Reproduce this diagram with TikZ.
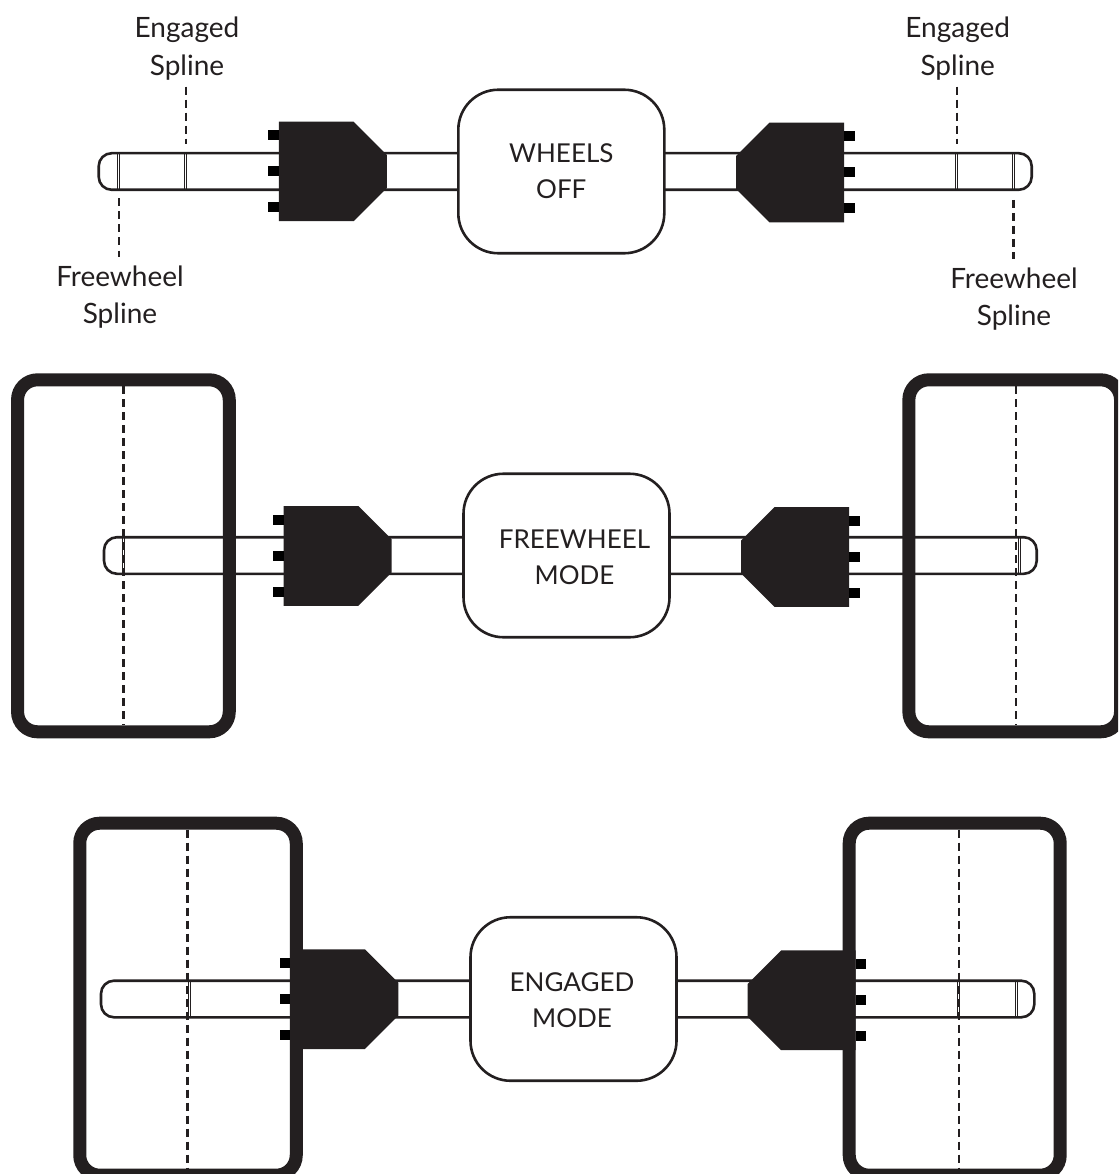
\documentclass[tikz,border=0pt]{standalone}
\usepackage{fontspec}
\setmainfont{Lato}
\usepackage{tikz}
\usetikzlibrary{positioning}
\definecolor{ink}{HTML}{231F20}
\tikzstyle{shaft} = [draw=ink, line width=2.6pt, rounded corners=13pt]
\tikzstyle{spline} = [draw=ink, line width=.7pt, double=white, double distance=1.4pt]
\tikzstyle{leader} = [draw=ink, line width=2.4pt, dash pattern=on 8pt off 5pt]
\tikzstyle{hubblock} = [rectangle, inner sep=0pt, outer sep=0pt, minimum width=108pt, minimum height=99.7pt]
\tikzstyle{tooth} = [rectangle, fill=black, inner sep=0pt, outer sep=0pt, minimum width=10.6pt, minimum height=10pt]
\tikzstyle{wheel} = [rectangle, draw=ink, line width=13pt, rounded corners=20pt, outer sep=0pt, minimum height=352pt]
\tikzstyle{gearbox} = [rectangle, draw=ink, line width=2.6pt, fill=white, rounded corners=40pt, outer sep=0pt, minimum width=206pt, minimum height=163.5pt]
\tikzstyle{caption} = [align=center, inner sep=0pt, text=ink, font=\fontsize{28}{37.5}\selectfont]
\tikzstyle{boxlabel} = [align=center, inner sep=0pt, text=ink, font=\fontsize{26}{36}\selectfont]
\newcommand{\axle}[6]{%
	\coordinate (top#1) at ([yshift=18.3pt]box#2.#3);
	\coordinate (bot#1) at ([yshift=-18.3pt]box#2.#3);
	\coordinate (end#1) at (#4,0);
	\coordinate (fw#1) at (#5,0);
	\coordinate (en#1) at (#6,0);
	\draw [spline] (top#1 -| fw#1) -- (bot#1 -| fw#1);
	\draw [spline] (top#1 -| en#1) -- (bot#1 -| en#1);
	\draw [shaft] (top#1) -- (top#1 -| end#1) -- (bot#1 -| end#1) -- (bot#1);
}
\newcommand{\hubunit}[5]{%
	\node (hub#1) [hubblock] at (#2) {};
	\fill [ink] (hub#1.north #3) -- ([xshift=#5*33.4pt]hub#1.north #4) -- ([yshift=-33.4pt]hub#1.north #4) -- ([yshift=33.4pt]hub#1.south #4) -- ([xshift=#5*33.4pt]hub#1.south #4) -- (hub#1.south #3) -- cycle;
	\node (toothA#1) [tooth, anchor=#4] at ([yshift=36pt]hub#1.#3) {};
	\node (toothB#1) [tooth, anchor=#4] at (hub#1.#3) {};
	\node (toothC#1) [tooth, anchor=#4] at ([yshift=-36pt]hub#1.#3) {};
}

\begin{document}
\begin{tikzpicture}[x=1pt, y=-1pt]
		\clip (0,0) rectangle (1118,1174);
		\node (box1) [gearbox] at (561.3,171.5) {};
		\node (box2) [gearbox] at (566.5,555.5) {};
		\node (box3) [gearbox] at (573.5,999) {};
		\node (mode1) [boxlabel] at (box1) {WHEELS\\OFF};
		\node (mode2) [boxlabel, xshift=8pt, yshift=-2pt] at (box2) {FREEWHEEL\\MODE};
		\node (mode3) [boxlabel, xshift=-1.5pt, yshift=-1pt] at (box3) {ENGAGED\\MODE};
		\axle{L1}{1}{west}{98.7}{118.7}{185.3}
		\axle{R1}{1}{east}{1031.7}{1013.7}{956.7}
		\axle{L2}{2}{west}{104}{123.5}{185}
		\axle{R2}{2}{east}{1036.7}{1019.3}{959}
		\axle{L3}{3}{west}{101}{121}{189.3}
		\axle{R3}{3}{east}{1034.3}{1016.7}{958.5}
		\node (wheelL2) [wheel, minimum width=211.7pt] at (123.4,555.8) {};
		\node (wheelR2) [wheel, minimum width=211.7pt] at (1014.7,555.8) {};
		\node (wheelL3) [wheel, minimum width=216.5pt] at (188,999.2) {};
		\node (wheelR3) [wheel, minimum width=211pt] at (954.7,999.2) {};
		\hubunit{L1}{332.9,171.4}{west}{east}{-1}
		\hubunit{R1}{790,172.5}{east}{west}{1}
		\hubunit{L2}{337.7,555.9}{west}{east}{-1}
		\hubunit{R2}{795,557}{east}{west}{1}
		\hubunit{L3}{344.3,999.2}{west}{east}{-1}
		\hubunit{R3}{801.7,1000.3}{east}{west}{1}
		\node (engL) [caption] at (187,48.5) {Engaged\\Spline};
		\node (engR) [caption] at (957.7,48.5) {Engaged\\Spline};
		\node (frwL) [caption] at (120,297) {Freewheel\\Spline};
		\node (frwR) [caption] at (1014,299) {Freewheel\\Spline};
		\coordinate (engLend) at (186,144);
		\coordinate (engRend) at (956.7,144);
		\coordinate (frwLend) at (119,198.5);
		\coordinate (frwRend) at (1013.3,200);
		\draw [leader, shorten <=6.5pt] (engL.south -| engLend) -- (engLend);
		\draw [leader, shorten <=6.5pt] (engR.south -| engRend) -- (engRend);
		\draw [leader, shorten >=8pt] (frwLend) -- (frwL.north -| frwLend);
		\draw [leader, shorten >=8pt] (frwRend) -- (frwR.north -| frwRend);
		\coordinate (dashL2) at (123.3,0);
		\coordinate (dashR2) at (1016,0);
		\coordinate (dashL3) at (187.3,0);
		\coordinate (dashR3) at (959,0);
		\draw [leader, shorten <=6.5pt, shorten >=6.5pt] (wheelL2.north -| dashL2) -- (wheelL2.south -| dashL2);
		\draw [leader, shorten <=6.5pt, shorten >=6.5pt] (wheelR2.north -| dashR2) -- (wheelR2.south -| dashR2);
		\draw [leader, shorten <=6.5pt, shorten >=6.5pt] (wheelL3.north -| dashL3) -- (wheelL3.south -| dashL3);
		\draw [leader, shorten <=6.5pt, shorten >=6.5pt] (wheelR3.north -| dashR3) -- (wheelR3.south -| dashR3);
\end{tikzpicture}
\end{document}
